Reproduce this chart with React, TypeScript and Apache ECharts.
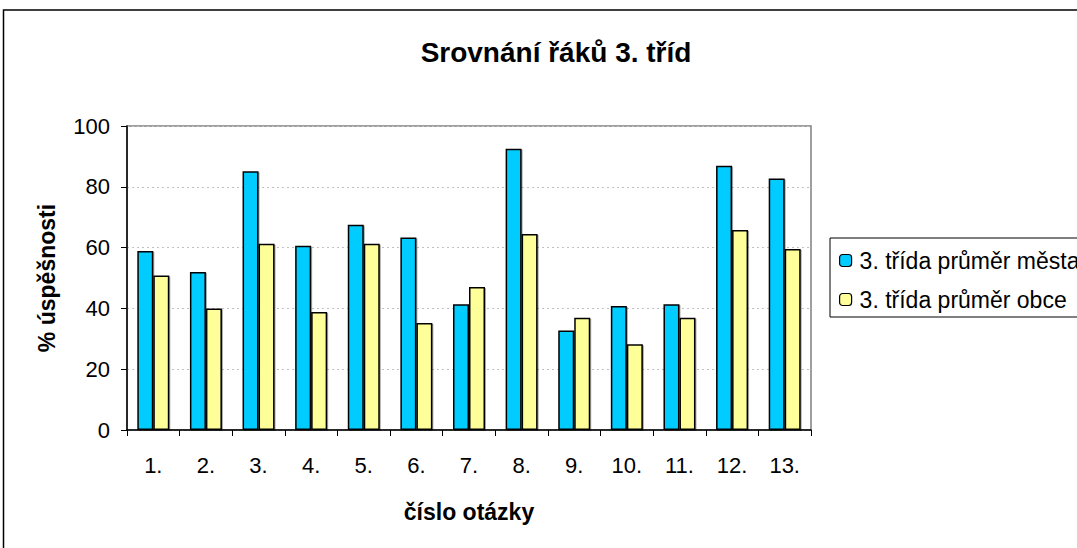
import React, { useEffect, useRef } from "react";
import * as echarts from "echarts";

const categories = ["1.", "2.", "3.", "4.", "5.", "6.", "7.", "8.", "9.", "10.", "11.", "12.", "13."];
const cityAvg = [58.9, 52.0, 85.1, 60.6, 67.5, 63.3, 41.4, 92.5, 32.7, 40.8, 41.4, 86.9, 82.7];
const townAvg = [50.8, 40.0, 61.3, 38.8, 61.3, 35.2, 47.0, 64.5, 36.9, 28.2, 36.9, 65.8, 59.5];
const seriesNames = ["3. třída průměr města", "3. třída průměr obce"];
const titleText = "Srovnání řáků 3. tříd";
const xName = "číslo otázky";
const yName = "% úspěšnosti";

const FONT = "Liberation Sans, Arial, sans-serif";

export default function App() {
  const ref = useRef<HTMLDivElement>(null);
  useEffect(() => {
    document.body.style.margin = "0";
    const chart = echarts.init(ref.current!, null, { renderer: "svg" });
    const barStyle = (color: string) => ({
      color,
      borderColor: "#000",
      borderWidth: 1.5,
      shadowColor: "rgba(0,0,0,0.35)",
      shadowOffsetX: 1,
      shadowOffsetY: 1,
      shadowBlur: 0,
    });
    chart.setOption({
      animation: false,
      backgroundColor: "#fff",
      textStyle: { fontFamily: FONT },
      title: {
        text: titleText,
        left: 551,
        textAlign: "center",
        top: 33,
        textStyle: { fontFamily: FONT, fontSize: 28, fontWeight: "bold", color: "#000" },
      },
      graphic: [
        {
          type: "rect",
          shape: { x: 3.5, y: 10, width: 1200, height: 700 },
          style: { fill: "none", stroke: "#000", lineWidth: 1.5 },
          z: 100,
          silent: true,
        },
      ],
      legend: {
        orient: "vertical",
        left: 830,
        top: 238,
        padding: [11, 30, 6, 9],
        itemGap: 16,
        itemWidth: 12,
        itemHeight: 12,
        borderColor: "#000",
        borderWidth: 1,
        backgroundColor: "#fff",
        textStyle: { fontFamily: FONT, fontSize: 23, color: "#000", padding: [0, 0, 0, 3] },
        itemStyle: { borderColor: "#000", borderWidth: 1.2, shadowColor: "transparent" },
        data: seriesNames,
      },
      grid: {
        left: 127,
        top: 126,
        width: 684,
        height: 304,
        show: true,
        borderColor: "#808080",
        borderWidth: 1.5,
      },
      xAxis: {
        type: "category",
        data: categories,
        name: xName,
        nameLocation: "middle",
        nameGap: 70,
        nameTextStyle: { fontFamily: FONT, fontSize: 23, fontWeight: "bold", color: "#000" },
        axisLine: { lineStyle: { color: "#000", width: 1.5 } },
        axisTick: { show: true, length: 6, lineStyle: { color: "#000" } },
        axisLabel: { fontFamily: FONT, fontSize: 22, color: "#000", margin: 24 },
      },
      yAxis: {
        type: "value",
        min: 0,
        max: 100,
        interval: 20,
        name: yName,
        nameLocation: "middle",
        nameGap: 69,
        nameTextStyle: { fontFamily: FONT, fontSize: 23, fontWeight: "bold", color: "#000" },
        axisLine: { show: true, lineStyle: { color: "#000", width: 1.5 } },
        axisTick: { show: true, length: 6, lineStyle: { color: "#000" } },
        axisLabel: { fontFamily: FONT, fontSize: 22, color: "#000", margin: 17 },
        splitLine: { show: true, lineStyle: { color: "#c0c0c0", type: [2, 3], width: 1 } },
      },
      series: [
        {
          name: seriesNames[0],
          type: "bar",
          data: cityAvg,
          barWidth: 16,
          barGap: "0%",
          itemStyle: barStyle("#00ccff"),
        },
        {
          name: seriesNames[1],
          type: "bar",
          data: townAvg,
          barWidth: 16,
          barGap: "0%",
          itemStyle: barStyle("#ffff99"),
        },
      ],
    });
    return () => chart.dispose();
  }, []);
  return <div ref={ref} style={{ width: 1077, height: 548 }} />;
}
